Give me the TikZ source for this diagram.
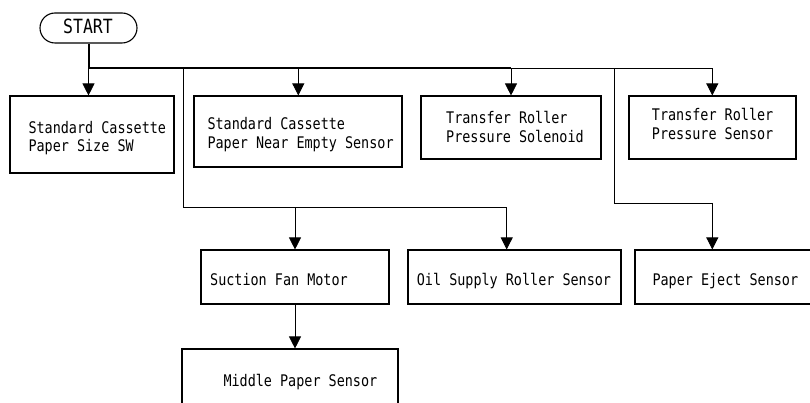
\documentclass[tikz,border=0pt]{standalone}
\usepackage{fontspec}
\usetikzlibrary{arrows.meta}
\newfontfamily\gfont[FakeStretch=0.84]{DejaVu Sans Mono}
\tikzset{
  box/.style={draw=black, line width=1.1pt, rectangle, inner sep=0pt},
  txt/.style={inner sep=0pt, anchor=base west, font=\gfont\fontsize{16}{18}\selectfont},
  bigtxt/.style={inner sep=0pt, anchor=base west, font=\gfont\fontsize{19.6}{22}\selectfont},
  arr/.style={line width=0.8pt, -{Triangle[width=12pt,length=12pt]}},
  wire/.style={line width=0.8pt},
}
\begin{document}
\begin{tikzpicture}[x=1pt,y=-1pt]
\useasboundingbox (0,0) rectangle (810,403);
\clip (0,0) rectangle (810,403);
% boxes
\node[box, rounded corners=15pt, minimum width=97pt, minimum height=30pt] (start) at (88.5,28) {};
\node[box, minimum width=164pt, minimum height=77pt] (b1) at (92,134.5) {};
\node[box, minimum width=208pt, minimum height=71pt] (b2) at (298,131.5) {};
\node[box, minimum width=180pt, minimum height=63pt] (b3) at (511,127.5) {};
\node[box, minimum width=167pt, minimum height=63pt] (b4) at (712.5,127.5) {};
\node[box, minimum width=188pt, minimum height=54pt] (bs) at (295,277) {};
\node[box, minimum width=213pt, minimum height=54pt] (bo) at (514.5,277) {};
\node[box, minimum width=180pt, minimum height=54pt] (be) at (725,277) {};
\node[box, minimum width=216pt, minimum height=62pt] (bm) at (290,380) {};
% texts
\node[bigtxt] (tstart) at (63,33.5) {START};
\node[txt] (t1a) at (28.3,133.3) {Standard Cassette};
\node[txt] (t1b) at (28.3,151.7) {Paper Size SW};
\node[txt] (t2a) at (207.3,130) {Standard Cassette};
\node[txt] (t2b) at (207.3,148.3) {Paper Near Empty Sensor};
\node[txt] (t3a) at (446,124) {Transfer Roller};
\node[txt] (t3b) at (446,142.3) {Pressure Solenoid};
\node[txt] (t4a) at (651.7,120.7) {Transfer Roller};
\node[txt] (t4b) at (651.7,139.3) {Pressure Sensor};
\node[txt] (ts) at (210,285.8) {Suction Fan Motor};
\node[txt] (to) at (416.7,285.3) {Oil Supply Roller Sensor};
\node[txt] (te) at (652.3,285.3) {Paper Eject Sensor};
\node[txt] (tm) at (223.3,386.7) {Middle Paper Sensor};
% junction coordinates
\coordinate (j0) at (88.5,68.3);
\coordinate (j2) at (298.3,68.3);
\coordinate (jA) at (183.8,68.3);
\coordinate (j3) at (511,68.3);
\coordinate (jB) at (614.3,68.3);
\coordinate (j4) at (712.3,68.3);
\coordinate (jA2) at (183.8,207.3);
\coordinate (js) at (295,207.3);
\coordinate (jo) at (506.7,207.3);
\coordinate (jB2) at (614.3,203);
\coordinate (je) at (712.3,203);
% trunk
\draw[line width=2pt] (start.south -| j0) -- (j0) -- (j3);
\draw[line width=1.4pt] (j3) -- (jB);
\draw[wire] (jB) -- (j4);
% top arrows
\draw[arr] (j0) -- (j0 |- b1.north);
\draw[arr] (j2) -- (j2 |- b2.north);
\draw[arr] (j3) -- (j3 |- b3.north);
\draw[arr] (j4) -- (j4 |- b4.north);
% branch A
\draw[wire] (jA) -- (jA2) -- (jo);
\draw[arr] (js) -- (js |- bs.north);
\draw[arr] (jo) -- (jo |- bo.north);
% branch B
\draw[wire] (jB) -- (jB2) -- (je);
\draw[arr] (je) -- (je |- be.north);
% suction to middle
\draw[arr] (bs.south) -- (bs.south |- bm.north);
\end{tikzpicture}
\end{document}
